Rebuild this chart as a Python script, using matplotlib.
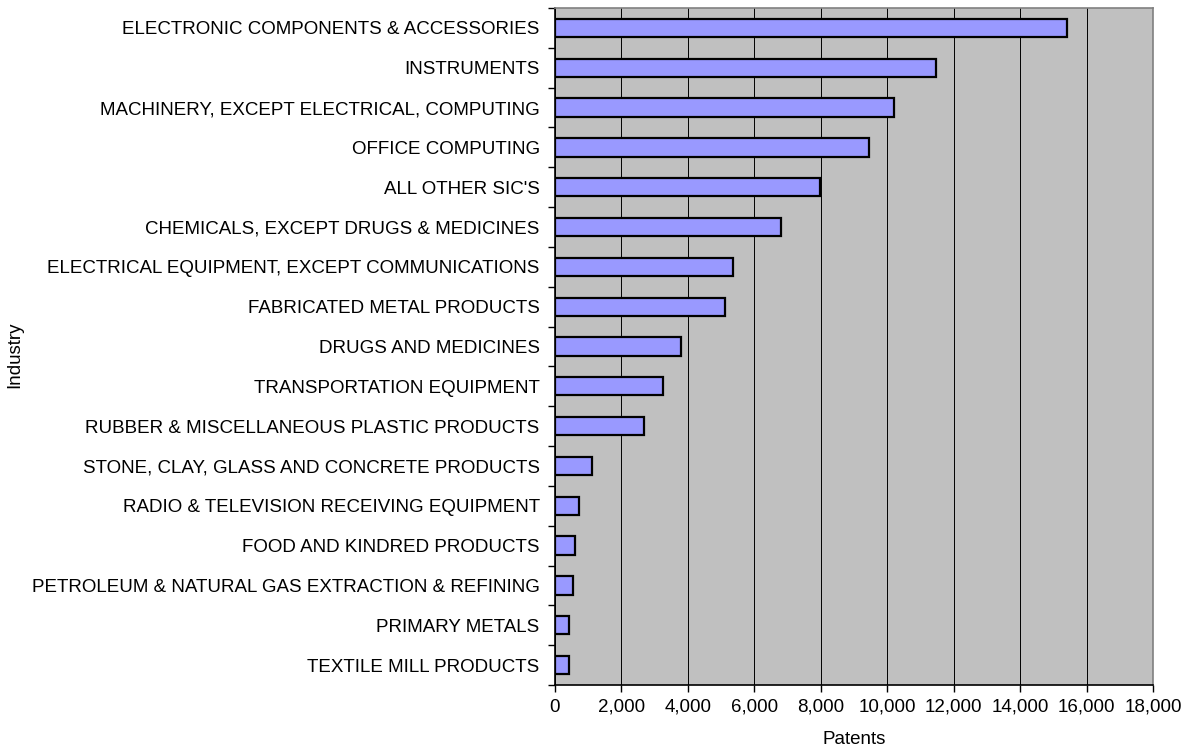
import matplotlib.pyplot as plt
from matplotlib.ticker import FuncFormatter, MultipleLocator

# Patent counts by industry, largest first
industries = [
    "ELECTRONIC COMPONENTS & ACCESSORIES",
    "INSTRUMENTS",
    "MACHINERY, EXCEPT ELECTRICAL, COMPUTING",
    "OFFICE COMPUTING",
    "ALL OTHER SIC'S",
    "CHEMICALS, EXCEPT DRUGS & MEDICINES",
    "ELECTRICAL EQUIPMENT, EXCEPT COMMUNICATIONS",
    "FABRICATED METAL PRODUCTS",
    "DRUGS AND MEDICINES",
    "TRANSPORTATION EQUIPMENT",
    "RUBBER & MISCELLANEOUS PLASTIC PRODUCTS",
    "STONE, CLAY, GLASS AND CONCRETE PRODUCTS",
    "RADIO & TELEVISION RECEIVING EQUIPMENT",
    "FOOD AND KINDRED PRODUCTS",
    "PETROLEUM & NATURAL GAS EXTRACTION & REFINING",
    "PRIMARY METALS",
    "TEXTILE MILL PRODUCTS",
]
patents = [15410, 11480, 10210, 9440, 7990, 6810, 5370, 5120, 3780,
           3240, 2680, 1100, 730, 590, 530, 430, 410]

plt.rcParams['font.family'] = ['Liberation Sans', 'DejaVu Sans']

fig = plt.figure(figsize=(11.85, 7.52), dpi=100)
ax = fig.add_axes([555 / 1185, 1 - 685 / 752, 598 / 1185, 677 / 752])

n = len(industries)
ypos = list(range(n - 1, -1, -1))
ax.barh(ypos, patents, height=0.46, color='#9999FF',
        edgecolor='black', linewidth=1.6, zorder=3)

ax.set_facecolor('#C0C0C0')
ax.set_xlim(0, 18000)
ax.set_ylim(-0.5, n - 0.5)

# x axis: ticks every 2,000 with thousands separators
ax.xaxis.set_major_locator(MultipleLocator(2000))
ax.xaxis.set_major_formatter(FuncFormatter(lambda v, p: f"{int(v):,}"))
ax.grid(axis='x', color='black', linewidth=0.7, zorder=1)

# y axis: labels at bar centres, tick marks between categories
ax.set_yticks(ypos)
ax.set_yticklabels(industries)
ax.tick_params(axis='y', which='major', length=0, pad=11, labelsize=13.5)
ax.set_yticks([i - 0.5 for i in range(n + 1)], minor=True)
ax.tick_params(axis='y', which='minor', length=5, width=1, color='black')
ax.tick_params(axis='x', length=5, width=1, labelsize=13.5, pad=5)

for side in ['top', 'right']:
    ax.spines[side].set_color('#808080')
    ax.spines[side].set_linewidth(1.2)
for side in ['left', 'bottom']:
    ax.spines[side].set_color('black')
    ax.spines[side].set_linewidth(1.2)

ax.set_xlabel("Patents", fontsize=13.5, labelpad=11)
fig.text(15 / 1185, 1 - 355 / 752, "Industry", rotation=90,
         ha='center', va='center', fontsize=13.5)

plt.savefig("out.png", dpi=100)
